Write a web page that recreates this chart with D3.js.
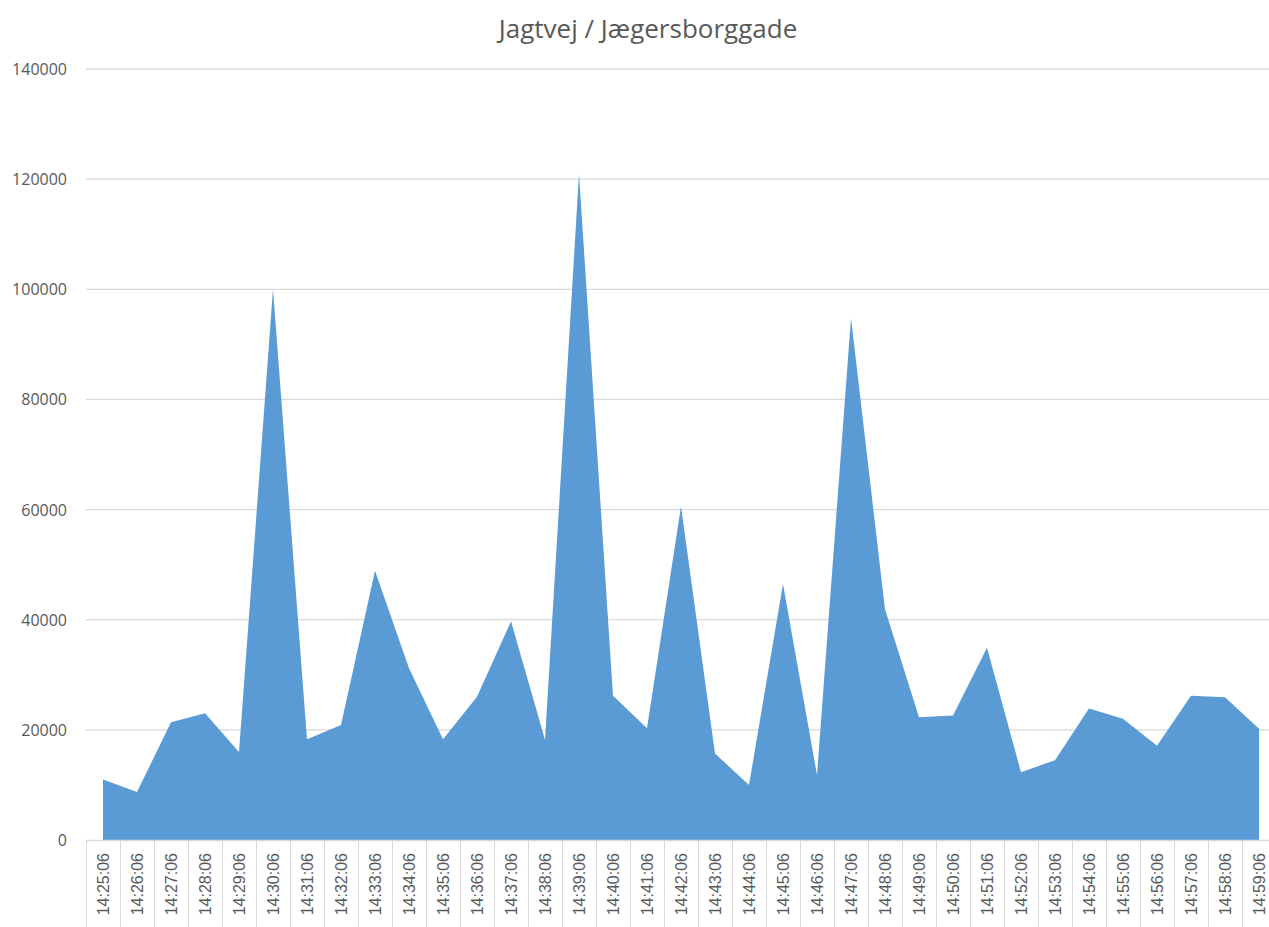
<!DOCTYPE html>
<html>
<head>
<meta charset="utf-8">
<script src="https://cdn.jsdelivr.net/npm/d3@7"></script>
<style>
  body { margin: 0; background: #fff; }
  svg { display: block; }
</style>
</head>
<body>
<div id="chart"></div>
<script>
// data
const title = "Jagtvej / Jægersborggade";
const times = [];
for (let m = 25; m <= 59; m++) times.push("14:" + m + ":06");
const values = [
  11000, 8700, 21400, 23000, 16000, 100000, 18300, 20900, 48900, 31200,
  18300, 26000, 39700, 18200, 121000, 26200, 20300, 60600, 15700, 10000,
  46500, 11800, 94800, 41900, 22300, 22600, 34900, 12300, 14500, 23900,
  22000, 17100, 26200, 25900, 20200
];
const yTicks = [0, 20000, 40000, 60000, 80000, 100000, 120000, 140000];

const width = 1269, height = 927;
const plotLeft = 86, bandW = 34, plotTop = 69, plotBottom = 840;

const svg = d3.select("#chart").append("svg")
  .attr("width", width)
  .attr("height", height);

const x = d3.scaleBand()
  .domain(times)
  .range([plotLeft, plotLeft + bandW * times.length]);

const y = d3.scaleLinear()
  .domain([0, 140000])
  .range([plotBottom, plotTop]);

// gridlines
svg.append("g")
  .selectAll("line")
  .data(yTicks.filter(d => d > 0))
  .join("line")
  .attr("x1", plotLeft).attr("x2", width)
  .attr("y1", d => y(d)).attr("y2", d => y(d))
  .attr("stroke", "#d9d9d9")
  .attr("stroke-width", 1.3);

// y labels
svg.append("g")
  .selectAll("text")
  .data(yTicks)
  .join("text")
  .attr("x", 67)
  .attr("y", d => y(d) + 6)
  .attr("text-anchor", "end")
  .attr("font-family", "'Open Sans', sans-serif")
  .attr("font-size", "16px")
  .attr("fill", "#595959")
  .text(d => d);

// area
const area = d3.area()
  .x((d, i) => x(times[i]) + x.bandwidth() / 2)
  .y0(y(0))
  .y1(d => y(d));

svg.append("path")
  .datum(values)
  .attr("d", area)
  .attr("fill", "#5b9bd5");

// x axis line + category separators
svg.append("line")
  .attr("x1", plotLeft).attr("x2", width)
  .attr("y1", plotBottom + 0.5).attr("y2", plotBottom + 0.5)
  .attr("stroke", "#d9d9d9")
  .attr("stroke-width", 1.3);

svg.append("g")
  .selectAll("line")
  .data(d3.range(times.length + 1))
  .join("line")
  .attr("x1", i => plotLeft + i * bandW + 0.5)
  .attr("x2", i => plotLeft + i * bandW + 0.5)
  .attr("y1", plotBottom).attr("y2", height)
  .attr("stroke", "#d9d9d9");

// x labels (rotated)
svg.append("g")
  .selectAll("text")
  .data(times)
  .join("text")
  .attr("transform", d => `translate(${x(d) + x.bandwidth() / 2 + 6},853) rotate(-90)`)
  .attr("text-anchor", "end")
  .attr("font-family", "'Liberation Sans', Arial, sans-serif")
  .attr("font-size", "16px")
  .attr("fill", "#595959")
  .text(d => d);

// title
svg.append("text")
  .attr("x", 648)
  .attr("y", 38)
  .attr("text-anchor", "middle")
  .attr("font-family", "'Open Sans', sans-serif")
  .attr("font-size", "26px")
  .attr("fill", "#595959")
  .text(title);
</script>
</body>
</html>
